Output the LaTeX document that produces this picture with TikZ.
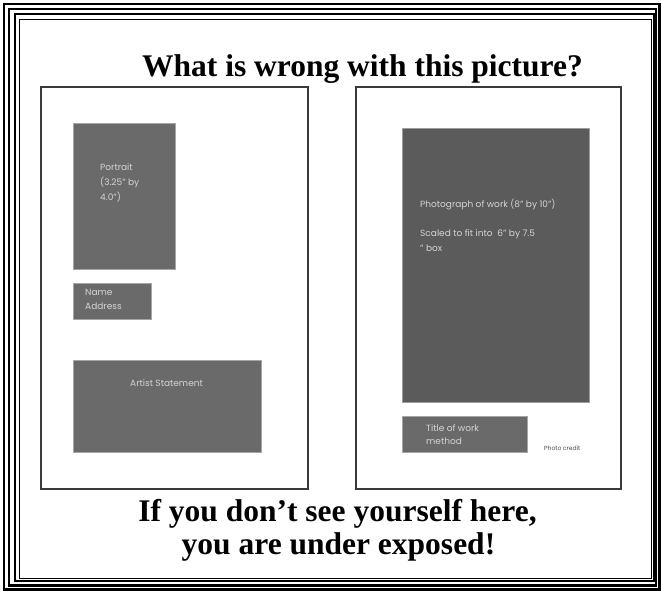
\documentclass[tikz,border=0pt]{standalone}
\usepackage{fontspec}
\setmainfont{Liberation Serif}
\newfontfamily\boxfont{Poppins}
\definecolor{boxgray}{HTML}{6A6A6A}
\definecolor{photogray}{HTML}{5B5B5B}
\definecolor{boxtext}{HTML}{D4D4D4}
\definecolor{panelline}{HTML}{3A3A3A}
\begin{document}
\begin{tikzpicture}[x=1pt,y=-1pt,
  frameline/.style={draw=black},
  panel/.style={draw=panelline,line width=1.3pt},
  graybox/.style={fill=boxgray,draw=boxgray!60!white,line width=0.4pt},
  photobox/.style={fill=photogray,draw=photogray!60!white,line width=0.4pt},
  boxlabel/.style={inner sep=0pt,anchor=base west,text=boxtext,font=\boxfont\fontsize{9}{15}\selectfont,align=left},
  headline/.style={inner sep=0pt,anchor=base,font=\bfseries\fontsize{31.5}{33}\selectfont}]
\useasboundingbox (0,0) rectangle (662,593);
\fill[white] (0,0) rectangle (662,593);
% frame
\draw[frameline,line width=2.4pt] (4,4) rectangle (659.5,589.5);
\draw[frameline,line width=2.6pt] (9,9) rectangle (656,585.5);
\draw[frameline,line width=2pt] (14.5,14.5) rectangle (653.5,581.5);
\draw[frameline,line width=1.2pt] (19.5,19.5) rectangle (651.5,578.5);
% panels
\draw[panel] (41,87) rectangle (308,489);
\draw[panel] (356,87) rectangle (621,489);
% left panel boxes
\draw[graybox] (73,123) rectangle (175,269);
\draw[graybox] (73,283) rectangle (151,319);
\draw[graybox] (73,360) rectangle (261,452);
% right panel boxes
\draw[photobox] (402,128) rectangle (589,402);
\draw[graybox] (402,416) rectangle (527,452);
% labels (anchor = baseline of last line)
\node[boxlabel] (portrait) at (100,201) {Portrait\\(3.25” by\\4.0”)};
\node[boxlabel,font=\boxfont\fontsize{9}{14}\selectfont] (name) at (85,310) {Name\\Address};
\node[boxlabel] (artist) at (130,387) {Artist Statement};
\node[boxlabel] (photo) at (420,208) {Photograph of work (8” by 10”)};
\node[boxlabel] (scaled) at (420,252) {Scaled to fit into \ 6” by 7.5\\” box};
\node[boxlabel,font=\boxfont\fontsize{9}{13}\selectfont] (title) at (426,445) {Title of work\\method};
\node[inner sep=0pt,anchor=base west,text=black!70,font=\boxfont\fontsize{6}{7}\selectfont] (credit) at (544,451) {Photo credit};
% headlines
\node[headline] (head) at (362.5,77) {What is wrong with this picture?};
\node[headline] (foot1) at (337.5,522) {If you don’t see yourself here,};
\node[headline] (foot2) at (338.5,555) {you are under exposed!};
\end{tikzpicture}
\end{document}
